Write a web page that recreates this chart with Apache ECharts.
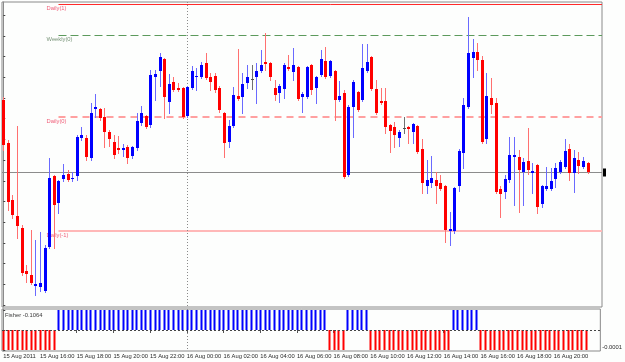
<!DOCTYPE html>
<html><head><meta charset="utf-8">
<script src="https://cdn.jsdelivr.net/npm/echarts@6.0.0/dist/echarts.min.js"></script>
<style>html,body{margin:0;padding:0;background:#fdfefd;}#chart{width:625px;height:362px;}</style>
</head><body><div id="chart"></div>
<script>
// ---------------- data ----------------
const timeLabels = ['15 Aug 2011','15 Aug 16:00','15 Aug 18:00','15 Aug 20:00','15 Aug 22:00','16 Aug 00:00','16 Aug 02:00','16 Aug 04:00','16 Aug 06:00','16 Aug 08:00','16 Aug 10:00','16 Aug 12:00','16 Aug 14:00','16 Aug 16:00','16 Aug 18:00','16 Aug 20:00'];
const timeLabelBars = [0,8,16,24,32,40,48,56,64,72,80,88,96,104,112,120];
const daySeparatorBar = 40;

const opens = [1.44500,1.44285,1.44000,1.43920,1.43860,1.43645,1.43625,1.43570,1.43565,1.43545,
1.43765,1.44120,1.43985,1.44105,1.44130,1.44105,1.44120,1.44310,1.44310,1.44210,
1.44455,1.44455,1.44415,1.44340,1.44290,1.44260,1.44250,1.44265,1.44220,1.44260,
1.44385,1.44420,1.44375,1.44615,1.44645,1.44705,1.44490,1.44590,1.44560,1.44560,
1.44420,1.44560,1.44615,1.44615,1.44685,1.44615,1.44620,1.44560,1.44435,1.44290,
1.44370,1.44520,1.44515,1.44585,1.44605,1.44615,1.44645,1.44690,1.44685,1.44560,
1.44535,1.44555,1.44665,1.44640,1.44665,1.44515,1.44515,1.44675,1.44560,1.44625,
1.44695,1.44620,1.44645,1.44500,1.44535,1.44125,1.44465,1.44540,1.44500,1.44645,
1.44715,1.44555,1.44495,1.44495,1.44375,1.44365,1.44310,1.44360,1.44365,1.44340,
1.44370,1.44255,1.44070,1.44085,1.44100,1.44085,1.44070,1.43845,1.43845,1.44070,
1.44235,1.44465,1.44710,1.44740,1.44700,1.44305,1.44510,1.44485,1.44055,1.44040,
1.44100,1.44215,1.44215,1.44140,1.44195,1.44135,1.44175,1.43980,1.44055,1.44055,
1.44105,1.44140,1.44165,1.44255,1.44135,1.44200,1.44165,1.44185];
const closes = [1.44275,1.43990,1.43925,1.43870,1.43635,1.43630,1.43585,1.43580,1.43585,1.43760,
1.44110,1.43975,1.44095,1.44125,1.44100,1.44110,1.44315,1.44325,1.44215,1.44435,
1.44465,1.44410,1.44340,1.44305,1.44225,1.44250,1.44260,1.44210,1.44265,1.44395,
1.44435,1.44365,1.44625,1.44630,1.44715,1.44515,1.44580,1.44550,1.44550,1.44415,
1.44565,1.44645,1.44620,1.44675,1.44610,1.44590,1.44550,1.44450,1.44285,1.44370,
1.44525,1.44505,1.44580,1.44615,1.44605,1.44645,1.44675,1.44680,1.44615,1.44525,
1.44570,1.44675,1.44655,1.44675,1.44505,1.44530,1.44665,1.44550,1.44615,1.44705,
1.44615,1.44695,1.44500,1.44520,1.44115,1.44465,1.44590,1.44450,1.44660,1.44690,
1.44555,1.44435,1.44485,1.44365,1.44345,1.44325,1.44340,1.44360,1.44355,1.44380,
1.44240,1.44085,1.44100,1.44110,1.44070,1.44055,1.43850,1.43855,1.44060,1.44245,
1.44475,1.44735,1.44740,1.44700,1.44290,1.44520,1.44475,1.44040,1.44030,1.44105,
1.44225,1.44225,1.44150,1.44190,1.44150,1.44145,1.43965,1.44070,1.44070,1.44095,
1.44160,1.44190,1.44245,1.44135,1.44210,1.44170,1.44195,1.44140];
const highs = [1.44515,1.44300,1.44025,1.44370,1.43875,1.43675,1.43850,1.43800,1.43840,1.43775,
1.44210,1.44125,1.44100,1.44180,1.44150,1.44140,1.44325,1.44365,1.44325,1.44485,
1.44530,1.44460,1.44460,1.44350,1.44325,1.44320,1.44280,1.44275,1.44270,1.44435,
1.44470,1.44425,1.44650,1.44650,1.44735,1.44710,1.44630,1.44615,1.44585,1.44565,
1.44570,1.44670,1.44660,1.44690,1.44735,1.44635,1.44635,1.44570,1.44440,1.44400,
1.44565,1.44755,1.44635,1.44675,1.44675,1.44685,1.44750,1.44835,1.44690,1.44600,
1.44580,1.44685,1.44725,1.44760,1.44670,1.44540,1.44670,1.44680,1.44620,1.44750,
1.44765,1.44700,1.44650,1.44595,1.44550,1.44475,1.44600,1.44545,1.44780,1.44780,
1.44720,1.44600,1.44560,1.44560,1.44380,1.44390,1.44350,1.44415,1.44370,1.44385,
1.44375,1.44305,1.44200,1.44220,1.44140,1.44125,1.44075,1.43940,1.44065,1.44255,
1.44510,1.44915,1.44805,1.44785,1.44720,1.44635,1.44610,1.44510,1.44070,1.44125,
1.44315,1.44315,1.44250,1.44210,1.44360,1.44185,1.44180,1.44075,1.44165,1.44160,
1.44185,1.44200,1.44305,1.44280,1.44250,1.44240,1.44215,1.44190];
const lows = [1.44250,1.43950,1.43910,1.43810,1.43625,1.43590,1.43580,1.43525,1.43545,1.43540,
1.43760,1.43760,1.43935,1.44095,1.44095,1.44095,1.44100,1.44300,1.44200,1.44200,
1.44415,1.44400,1.44265,1.44270,1.44210,1.44235,1.44220,1.44185,1.44210,1.44250,
1.44375,1.44360,1.44365,1.44500,1.44570,1.44410,1.44435,1.44545,1.44545,1.44410,
1.44415,1.44555,1.44550,1.44610,1.44605,1.44550,1.44540,1.44440,1.44215,1.44265,
1.44365,1.44500,1.44435,1.44560,1.44555,1.44485,1.44640,1.44650,1.44600,1.44500,
1.44490,1.44510,1.44650,1.44600,1.44500,1.44440,1.44510,1.44530,1.44485,1.44620,
1.44610,1.44615,1.44400,1.44495,1.44110,1.44120,1.44315,1.44445,1.44495,1.44640,
1.44550,1.44430,1.44480,1.44335,1.44240,1.44265,1.44270,1.44335,1.44285,1.44285,
1.44235,1.44035,1.44035,1.44065,1.43985,1.44050,1.43790,1.43775,1.43835,1.44045,
1.44160,1.44460,1.44615,1.44650,1.44285,1.44285,1.44435,1.44035,1.43915,1.44010,
1.44090,1.43975,1.43940,1.43975,1.44130,1.44035,1.43935,1.43965,1.44050,1.44050,
1.44065,1.44135,1.44160,1.44100,1.44040,1.44135,1.44160,1.44135];

const fisherValues = [-0.0001,-0.0001,-0.0001,-0.0001,-0.0001,-0.0001,-0.0001,-0.0001,-0.0001,-0.0001,-0.0001,-0.0001,
0.0001,0.0001,0.0001,0.0001,0.0001,0.0001,0.0001,0.0001,0.0001,0.0001,0.0001,0.0001,0.0001,0.0001,0.0001,0.0001,0.0001,0.0001,
0.0001,0.0001,0.0001,0.0001,0.0001,0.0001,0.0001,0.0001,0.0001,0.0001,0.0001,0.0001,0.0001,0.0001,0.0001,0.0001,0.0001,0.0001,
0.0001,0.0001,0.0001,0.0001,0.0001,0.0001,0.0001,0.0001,0.0001,0.0001,0.0001,0.0001,0.0001,0.0001,0.0001,0.0001,0.0001,0.0001,
0.0001,0.0001,0.0001,0.0001,0.0001,
-0.0001,-0.0001,-0.0001,-0.0001,
0.0001,0.0001,0.0001,0.0001,0.0001,
-0.0001,-0.0001,-0.0001,-0.0001,-0.0001,-0.0001,-0.0001,-0.0001,-0.0001,-0.0001,-0.0001,-0.0001,-0.0001,-0.0001,-0.0001,-0.0001,-0.0001,-0.0001,
0.0001,0.0001,0.0001,0.0001,0.0001,0.0001,
-0.0001,-0.0001,-0.0001,-0.0001,-0.0001,-0.0001,-0.0001,-0.0001,-0.0001,-0.0001,-0.0001,-0.0001,
-0.0001,-0.0001,-0.0001,-0.0001,-0.0001,-0.0001,-0.0001,-0.0001,-0.0001,-0.0001,-0.0001,-0.0001];
const fisherLabel = 'Fisher -0.1064';

const pivotNames = ['Daily(1)','Weekly(0)','Daily(0)','Daily(-1)'];
const pivotValues = [1.44980, 1.44825, 1.44415, 1.43847];
const pivotStartBar = 12;

const priceTicks = [1.44925,1.44821,1.44718,1.44614,1.44511,1.44407,1.44304,1.44200,1.44096,1.43993,1.43889,1.43786,1.43682,1.43579,1.43475];
const fisherTicks = [0.0001, 0, -0.0001];
const fisherTickLabels = ['', '', '-0.0001'];

// ---------------- rendering ----------------
const FONT = '"Liberation Sans", Arial, sans-serif';
const X_MIN = -0.28, X_MAX = 130.15;
const PRICE_MIN = 1.43465, PRICE_MAX = 1.44990;
const F_MIN = -0.000105, F_MAX = 0.000105;

const pivotStyle = [
  {stroke:'#ff2a2a', width:1, dash:null, text:'#f0607a'},
  {stroke:'#5c9a5c', width:1, dash:[8,4], text:'#7a957a'},
  {stroke:'#ffa0a0', width:2, dash:[7,5], text:'#f0607a'},
  {stroke:'#ffb8b8', width:2, dash:null, text:'#f0607a'}
];

function renderCandle(params, api) {
  const i = api.value(0), o = api.value(1), c = api.value(2), l = api.value(3), h = api.value(4);
  const pO = api.coord([i, o]), pC = api.coord([i, c]), pL = api.coord([i, l]), pH = api.coord([i, h]);
  const cx = Math.round(pO[0]);
  const flat = Math.abs(c - o) < 1e-9, up = c > o;
  const body = flat ? '#505050' : (up ? '#0000ff' : '#ff0000');
  const wick = flat ? '#707070' : (up ? '#6a6aff' : '#ff7070');
  const top = Math.round(Math.min(pO[1], pC[1])), bot = Math.round(Math.max(pO[1], pC[1]));
  return {type:'group', children:[
    {type:'line', shape:{x1:cx+0.5, y1:Math.round(pH[1]), x2:cx+0.5, y2:Math.round(pL[1])+1}, style:{stroke:wick, lineWidth:1}},
    {type:'rect', shape:{x:cx-1, y:top, width:3, height:Math.max(1, bot-top)}, style:{fill:body}}
  ]};
}

function renderPivot(params, api) {
  const k = api.value(0), v = api.value(1);
  const p0 = api.coord([pivotStartBar, v]), p1 = api.coord([X_MAX, v]);
  const st = pivotStyle[k];
  const y = st.width === 2 ? Math.round(p0[1]) : Math.round(p0[1]) + 0.5;
  const lp = api.coord([9.4, v]);
  return {type:'group', children:[
    {type:'line', shape:{x1:p0[0], y1:y, x2:p1[0], y2:y}, style:{stroke:st.stroke, lineWidth:st.width, lineDash:st.dash}},
    {type:'text', style:{x:lp[0], y:y+4, text:pivotNames[k], fill:st.text, font:'5.8px ' + FONT, textAlign:'left', textVerticalAlign:'middle'}}
  ]};
}

function renderBid(params, api) {
  const v = api.value(0);
  const p0 = api.coord([X_MIN, v]), p1 = api.coord([X_MAX, v]);
  const y = Math.round(p0[1]) + 0.5;
  return {type:'group', children:[
    {type:'line', shape:{x1:p0[0], y1:y, x2:p1[0], y2:y}, style:{stroke:'#8c8c8c', lineWidth:1}},
    {type:'rect', shape:{x:p1[0]+1, y:y-4, width:3, height:8}, style:{fill:'#000'}}
  ]};
}

function makeSeparator(yMin, yMax) {
  return function(params, api) {
    const b = api.value(0);
    const p0 = api.coord([b, yMax]), p1 = api.coord([b, yMin]);
    const x = Math.round(p0[0]) + 0.5;
    return {type:'line', shape:{x1:x, y1:p0[1], x2:x, y2:p1[1]}, style:{stroke:'#8a8a8a', lineWidth:1, lineDash:[1,2]}};
  };
}

function renderFisher(params, api) {
  const i = api.value(0), v = api.value(1);
  const p0 = api.coord([i, 0]), p1 = api.coord([i, v]);
  const cx = Math.round(p0[0]);
  return {type:'rect', shape:{x:cx-0.5, y:Math.min(p0[1], p1[1]), width:2, height:Math.abs(p1[1]-p0[1])}, style:{fill: v > 0 ? '#0000ff' : '#ff0000'}};
}

function renderZero(params, api) {
  const p0 = api.coord([X_MIN, 0]), p1 = api.coord([X_MAX, 0]);
  const y = Math.round(p0[1]) + 0.5;
  return {type:'line', shape:{x1:p0[0], y1:y, x2:p1[0], y2:y}, style:{stroke:'#444', lineWidth:1, lineDash:[2,2]}};
}

const chart = echarts.init(document.getElementById('chart'), null, {renderer:'canvas'});
chart.setOption({
  animation:false,
  backgroundColor:'#fdfefd',
  title:{text:fisherLabel, left:5, top:312, padding:0, textStyle:{fontSize:5.8, fontWeight:'normal', color:'#3a3a3a', fontFamily:FONT}},
  grid:[
    {left:2, right:23, top:2, height:305, show:true, borderColor:'#8a8a8a', borderWidth:1},
    {left:2, right:23, top:309, height:42, show:true, borderColor:'#8a8a8a', borderWidth:1}
  ],
  xAxis:[
    {gridIndex:0, type:'value', min:X_MIN, max:X_MAX, axisLine:{show:false}, axisTick:{show:false}, axisLabel:{show:false}, splitLine:{show:false}},
    {gridIndex:1, type:'value', min:X_MIN, max:X_MAX, axisLine:{show:false}, splitLine:{show:false},
      axisTick:{show:true, customValues:timeLabelBars, length:3, lineStyle:{color:'#555'}},
      axisLabel:{show:true, customValues:timeLabelBars, align:'left', margin:2, fontSize:5.8, color:'#2a2a2a', fontFamily:FONT,
        formatter:(v)=> timeLabels[timeLabelBars.indexOf(Math.round(v))] || ''}}
  ],
  yAxis:[
    {gridIndex:0, type:'value', position:'right', min:PRICE_MIN, max:PRICE_MAX, splitLine:{show:false},
      axisLine:{show:true, lineStyle:{color:'#8a8a8a'}},
      axisTick:{show:true, customValues:priceTicks, length:2, lineStyle:{color:'#444'}},
      axisLabel:{show:false}},
    {gridIndex:1, type:'value', position:'right', min:F_MIN, max:F_MAX, splitLine:{show:false},
      axisLine:{show:true, lineStyle:{color:'#8a8a8a'}},
      axisTick:{show:true, customValues:fisherTicks, length:2, lineStyle:{color:'#444'}},
      axisLabel:{show:true, customValues:fisherTicks, margin:2, fontSize:5.8, color:'#2a2a2a', fontFamily:FONT, verticalAlign:'bottom',
        formatter:(v)=> { const k = fisherTicks.findIndex(t => Math.abs(t - v) < 1e-9); return k >= 0 ? fisherTickLabels[k] : ''; }}}
  ],
  series:[
    {type:'custom', name:'pivots', xAxisIndex:0, yAxisIndex:0, renderItem:renderPivot, data:pivotValues.map((v,k)=>[k,v]), silent:true, clip:false},
    {type:'custom', name:'separator', xAxisIndex:0, yAxisIndex:0, renderItem:makeSeparator(PRICE_MIN, PRICE_MAX), data:[[daySeparatorBar]], silent:true},
    {type:'custom', name:'bid', xAxisIndex:0, yAxisIndex:0, renderItem:renderBid, data:[[closes[closes.length-1]]], silent:true, clip:false},
    {type:'custom', name:'candles', xAxisIndex:0, yAxisIndex:0, renderItem:renderCandle,
      data:opens.map((o,i)=>[i,o,closes[i],lows[i],highs[i]]), encode:{x:0, y:[1,2,3,4]}, silent:true},
    {type:'custom', name:'separator2', xAxisIndex:1, yAxisIndex:1, renderItem:makeSeparator(F_MIN, F_MAX), data:[[daySeparatorBar]], silent:true},
    {type:'custom', name:'fisher', xAxisIndex:1, yAxisIndex:1, renderItem:renderFisher, data:fisherValues.map((v,i)=>[i,v]), silent:true},
    {type:'custom', name:'zero', xAxisIndex:1, yAxisIndex:1, renderItem:renderZero, data:[[0]], silent:true}
  ]
});
</script></body></html>
